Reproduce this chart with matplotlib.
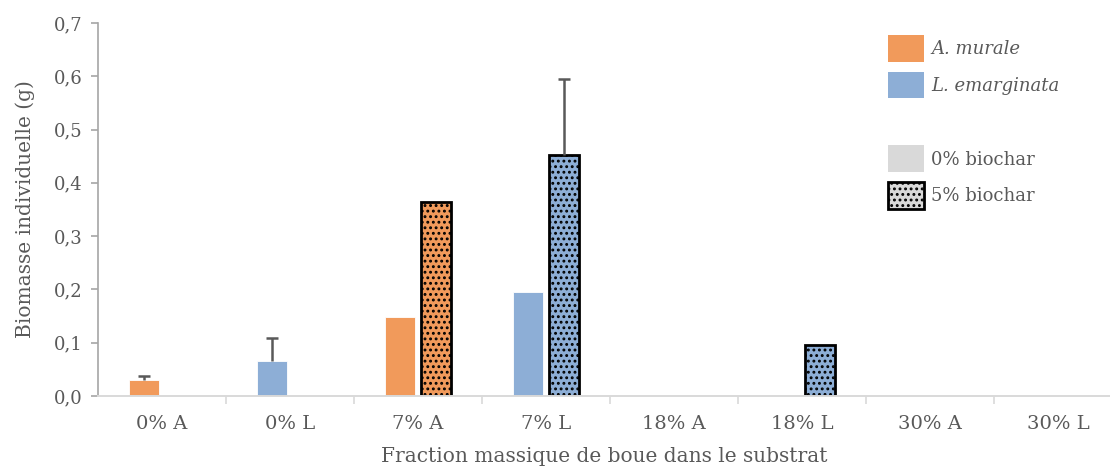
import numpy as np
import matplotlib.pyplot as plt
from matplotlib.patches import Patch

plt.rcParams['font.family'] = ['DejaVu Serif']
plt.rcParams['hatch.linewidth'] = 1.3

categories = ["0% A", "0% L", "7% A", "7% L", "18% A", "18% L", "30% A", "30% L"]
# species of each category: A = A. murale, L = L. emarginata
species = ["A", "L", "A", "L", "A", "L", "A", "L"]
biochar0 = [0.030, 0.066, 0.148, 0.196, 0.0, 0.0, 0.0, 0.0]
biochar0_err = [0.008, 0.042, 0.0, 0.0, 0.0, 0.0, 0.0, 0.0]
biochar5 = [0.0, 0.0, 0.365, 0.453, 0.0, 0.096, 0.0, 0.0]
biochar5_err = [0.0, 0.0, 0.0, 0.142, 0.0, 0.0, 0.0, 0.0]

orange = "#F19A5B"
blue = "#8DAED6"
grey_txt = "#595959"

fig = plt.figure(figsize=(11.10, 4.69), dpi=100)
ax = fig.add_axes([98 / 1110, 73 / 469, 1012 / 1110, 373 / 469])

x = np.arange(len(categories))
colors = [orange if s == "A" else blue for s in species]
w = 0.235
off = 0.14
cap = 0.047


def up_error(xc, top, err):
    # Excel style: only the upper whisker with its cap
    ax.plot([xc, xc], [top, top + err], color=grey_txt, lw=1.8, zorder=3, solid_capstyle="butt")
    ax.plot([xc - cap, xc + cap], [top + err, top + err], color=grey_txt, lw=1.8, zorder=3,
            solid_capstyle="butt")


for i in range(len(categories)):
    if biochar0[i] > 0:
        ax.bar(x[i] - off, biochar0[i], w, color=colors[i], edgecolor="white", linewidth=0.6, zorder=2)
        if biochar0_err[i] > 0:
            up_error(x[i] - off, biochar0[i], biochar0_err[i])
    if biochar5[i] > 0:
        ax.bar(x[i] + off, biochar5[i], w, color=colors[i], edgecolor="black", linewidth=2.0,
               hatch="...", zorder=2)
        if biochar5_err[i] > 0:
            up_error(x[i] + off, biochar5[i], biochar5_err[i])

ax.set_xlim(-0.5, 7.5 - 12 / 128)
ax.set_ylim(0, 0.7)
ax.set_yticks(np.arange(0, 0.71, 0.1))
ax.set_yticklabels([f"{v:.1f}".replace(".", ",") for v in np.arange(0, 0.71, 0.1)])
ax.set_xticks(x)
ax.set_xticklabels(categories)
ax.set_xticks(np.arange(0.5, 7.5, 1), minor=True)
ax.tick_params(axis="x", which="major", length=0, pad=14, labelsize=14, labelcolor=grey_txt)
ax.tick_params(axis="x", which="minor", length=6, color="#D9D9D9", width=1.2)
ax.tick_params(axis="y", length=5, color="#A6A6A6", width=1.2, labelsize=13, labelcolor=grey_txt, pad=6)

for s in ["top", "right"]:
    ax.spines[s].set_visible(False)
ax.spines["left"].set_color("#A6A6A6")
ax.spines["left"].set_linewidth(1.2)
ax.spines["bottom"].set_color("#D9D9D9")
ax.spines["bottom"].set_linewidth(1.4)

ax.set_xlabel("Fraction massique de boue dans le substrat", fontsize=14.5, color=grey_txt, labelpad=10)
ax.set_ylabel("Biomasse individuelle (g)", fontsize=14.5, color=grey_txt, labelpad=14)

handles = [
    Patch(facecolor=orange, edgecolor="none"),
    Patch(facecolor=blue, edgecolor="none"),
    Patch(facecolor="none", edgecolor="none"),
    Patch(facecolor="#D9D9D9", edgecolor="none"),
    Patch(facecolor="#D9D9D9", edgecolor="black", linewidth=2.0, hatch="..."),
]
labels = ["A. murale", "L. emarginata", "", "0% biochar", "5% biochar"]
leg = fig.legend(handles, labels, loc="upper left", bbox_to_anchor=(875 / 1110, 1 - 22 / 469),
                 frameon=False, fontsize=13, handlelength=2.0, handleheight=1.92,
                 handletextpad=0.4, labelspacing=0.55, borderpad=0.2)
for i, t in enumerate(leg.get_texts()):
    t.set_color(grey_txt)
    if i < 2:
        t.set_style("italic")

fig.savefig("out.png", dpi=100)
